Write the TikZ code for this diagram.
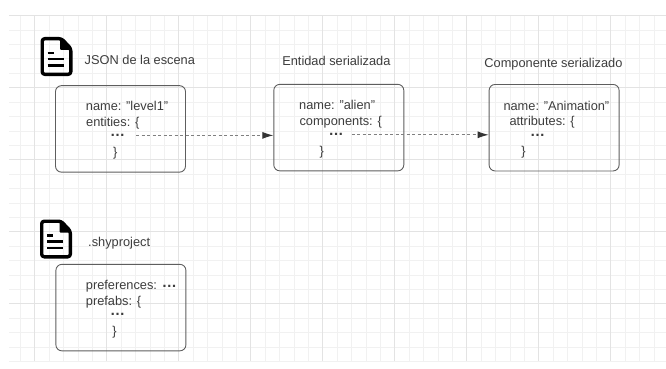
\documentclass[tikz,border=0pt]{standalone}
\usepackage{fontspec}
\setmainfont{Liberation Sans}
\usetikzlibrary{arrows.meta}
\definecolor{gridminor}{HTML}{F1F1F1}
\definecolor{gridmajor}{HTML}{E3E3E3}
\definecolor{txtcol}{HTML}{3D3D3D}
\definecolor{boxcol}{HTML}{5E5E5E}
\definecolor{linkcol}{HTML}{808080}
\definecolor{tipcol}{HTML}{333333}
\newcommand{\bigdots}{{\fontsize{15}{15}\bfseries\selectfont …}}
\tikzset{
  docicon/.pic={
    \draw[line width=3.4pt,line join=round,rounded corners=2.5pt]
      (21,1.7) -- (1.7,1.7) -- (1.7,37.3) -- (30.3,37.3) -- (30.3,11.5) -- cycle;
    \fill[rounded corners=1pt] (19.5,1.7) -- (19.5,13) -- (30.3,13) -- cycle;
    \draw[line width=2.8pt] (7,16) -- (13,16);
    \draw[line width=2.8pt] (7,22) -- (23,22);
    \draw[line width=2.8pt] (7,28.5) -- (23,28.5);
  }
}
\begin{document}
\begin{tikzpicture}[x=1pt,y=-1pt,
  minorline/.style={draw=gridminor,line width=0.8pt},
  majorline/.style={draw=gridmajor,line width=0.8pt},
  codebox/.style={draw=boxcol,line width=0.9pt,rounded corners=6pt,minimum width=130pt,minimum height=86.5pt,inner sep=0pt},
  txt/.style={anchor=base west,inner sep=0pt,outer sep=0pt,text=txtcol,font=\fontsize{12.8}{15}\selectfont},
  link/.style={draw=linkcol,line width=0.9pt,dash pattern=on 3pt off 2.5pt,-{Latex[length=11pt,width=7pt,color=tipcol]}},
]
\useasboundingbox (0,0) rectangle (666,369);
\fill[white] (0,0) rectangle (666,369);

% grid
\foreach \k in {-1,...,43} \draw[minorline] ({34.7+14.4*\k},15.7) -- ({34.7+14.4*\k},361.3);
\foreach \k in {0,...,24} \draw[minorline] (9,{15.7+14.4*\k}) -- (666,{15.7+14.4*\k});
\foreach \k in {0,...,8} \draw[majorline] ({34.7+72*\k},15.7) -- ({34.7+72*\k},361.3);
\foreach \k in {0,...,4} \draw[majorline] (9,{15.7+72*\k}) -- (666,{15.7+72*\k});

% icons
\pic at (40.5,37) {docicon};
\pic at (40,219.5) {docicon};

% titles
\node[txt] (t1) at (84.7,64.5) {JSON de la escena};
\node[txt] (t2) at (282.3,65.7) {Entidad serializada};
\node[txt] (t3) at (484.4,67.5) {Componente serializado};
\node[txt] (t4) at (88.2,246) {.shyproject};

% boxes
\node[codebox] (scene) at (120.5,128.9) {};
\node[codebox] (entity) at (338.8,127.6) {};
\node[codebox] (component) at (554.1,127.7) {};
\node[codebox] (project) at (120.9,307.6) {};

% scene text
\node[txt] (s1a) at (85.9,110.7) {name: "level1"};
\node[txt] (s1b) at (86.2,126) {entities: \{};
\node[txt] (s1c) at (110.2,136.05) {\bigdots};
\node[txt] (s1d) at (113,156) {\}};

% entity text
\node[txt] (s2a) at (299.2,109) {name: "alien"};
\node[txt] (s2b) at (299.5,125) {components: \{};
\node[txt] (s2c) at (328.5,135.35) {\bigdots};
\node[txt] (s2d) at (319.7,155) {\}};

% component text
\node[txt] (s3a) at (503.5,110) {name: "Animation"};
\node[txt] (s3b) at (509.5,125.7) {attributes: \{};
\node[txt] (s3c) at (530.2,136.75) {\bigdots};
\node[txt] (s3d) at (521.4,155.6) {\}};

% project text
\node[txt] (s4a) at (85.9,289.3) {preferences: \raisebox{1.5pt}{\bigdots}};
\node[txt] (s4b) at (85.9,305) {prefabs: \{};
\node[txt] (s4c) at (110.2,315.05) {\bigdots};
\node[txt] (s4d) at (112.4,335) {\}};

% links
\coordinate (l1) at (136,135.4);
\coordinate (l2) at (351.7,134.8);
\draw[link] (l1) -- (l1 -| entity.west);
\draw[link] (l2) -- (l2 -| component.west);
\end{tikzpicture}
\end{document}
